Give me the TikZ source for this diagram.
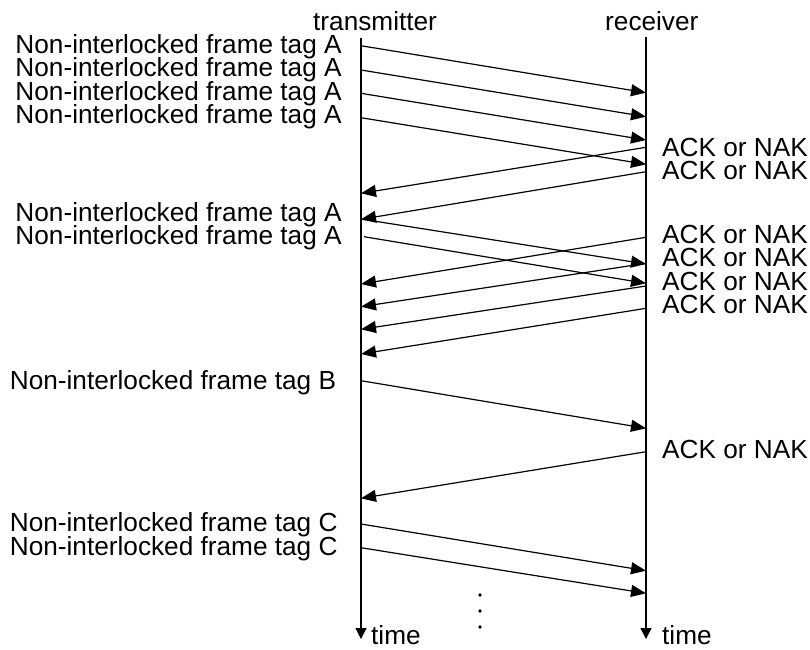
\documentclass[tikz,border=0pt]{standalone}
\usepackage{fontspec}
\setmainfont{Liberation Sans}
\usetikzlibrary{arrows.meta}
\begin{document}
\begin{tikzpicture}[x=1pt,y=-1pt,
  lbl/.style={inner sep=0pt,anchor=base west,font=\fontsize{26.2}{30}\selectfont},
  msg/.style={line width=1.2pt,-{Triangle[length=15pt,width=12pt]}},
  life/.style={line width=1.2pt,-{Triangle[length=11pt,width=11pt]}},
  dotmark/.style={circle,fill=black,inner sep=0pt,minimum size=3.6pt}]
\useasboundingbox (0,0) rectangle (810,649);
% lifelines
\coordinate (Ttop) at (361,38);
\coordinate (Tbot) at (361,639);
\coordinate (Rtop) at (646,37);
\coordinate (Rbot) at (646,639);
\draw[life] (Ttop) -- (Tbot);
\draw[life] (Rtop) -- (Rbot);
\node[lbl] (ttl) at (313,30) {transmitter};
\node[lbl] (rtl) at (605,30) {receiver};
\node[lbl] (tt) at (371,644) {time};
\node[lbl] (rt) at (662,644) {time};
% left labels
\node[lbl] (a1) at (15.3,53.3) {Non-interlocked frame tag A};
\node[lbl] (a2) at (15.3,76.7) {Non-interlocked frame tag A};
\node[lbl] (a3) at (15.3,100) {Non-interlocked frame tag A};
\node[lbl] (a4) at (15.3,123.3) {Non-interlocked frame tag A};
\node[lbl] (a5) at (15.3,221.7) {Non-interlocked frame tag A};
\node[lbl] (a6) at (15.3,244) {Non-interlocked frame tag A};
\node[lbl] (b1) at (9.7,389) {Non-interlocked frame tag B};
\node[lbl] (c1) at (9.7,531.7) {Non-interlocked frame tag C};
\node[lbl] (c2) at (9.7,555) {Non-interlocked frame tag C};
% right labels
\node[lbl] (k1) at (662,156) {ACK or NAK};
\node[lbl] (k2) at (662,179) {ACK or NAK};
\node[lbl] (k3) at (662,243.3) {ACK or NAK};
\node[lbl] (k4) at (662,266.7) {ACK or NAK};
\node[lbl] (k5) at (662,290) {ACK or NAK};
\node[lbl] (k6) at (662,313.3) {ACK or NAK};
\node[lbl] (k7) at (662,458.3) {ACK or NAK};
% message end points
\coordinate (f1s) at (361,45.7);  \coordinate (f1e) at (646,92.7);
\coordinate (f2s) at (361,70);    \coordinate (f2e) at (646,116.7);
\coordinate (f3s) at (361,93.3);  \coordinate (f3e) at (646,140);
\coordinate (f4s) at (361,117.7); \coordinate (f4e) at (646,164.3);
\coordinate (k1s) at (646,147.3); \coordinate (k1e) at (361,193.3);
\coordinate (k2s) at (646,171.7); \coordinate (k2e) at (361,219.3);
\coordinate (f5s) at (361,219);   \coordinate (f5e) at (646,264);
\coordinate (f6s) at (364,236.7); \coordinate (f6e) at (646,283.3);
\coordinate (k3s) at (646,237.3); \coordinate (k3e) at (361,284);
\coordinate (k4s) at (646,263.3); \coordinate (k4e) at (361,306.7);
\coordinate (k5s) at (646,286);   \coordinate (k5e) at (361,329.3);
\coordinate (k6s) at (646,308.3); \coordinate (k6e) at (361,354);
\coordinate (fbs) at (361,380.7); \coordinate (fbe) at (646,428.3);
\coordinate (k7s) at (646,451.7); \coordinate (k7e) at (361,498.3);
\coordinate (fc1s) at (361,524);  \coordinate (fc1e) at (646,570.7);
\coordinate (fc2s) at (361,547.7); \coordinate (fc2e) at (646,593.3);
% messages
\foreach \m in {f1,f2,f3,f4,k1,k2,f5,f6,k3,k4,k5,k6,fb,k7,fc1,fc2}
  \draw[msg] (\m s) -- (\m e);
% continuation dots
\node[dotmark] (d1) at (480,595) {};
\node[dotmark] (d2) at (480,611) {};
\node[dotmark] (d3) at (480,627) {};
\end{tikzpicture}
\end{document}
